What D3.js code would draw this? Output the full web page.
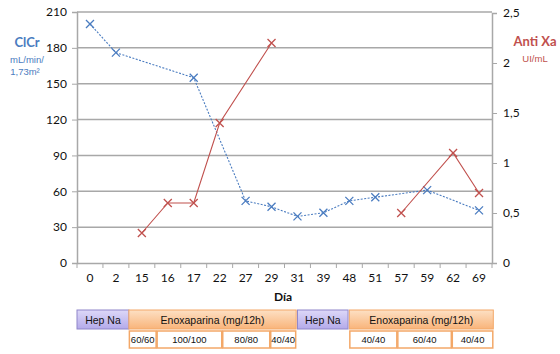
<!DOCTYPE html>
<html>
<head>
<meta charset="utf-8">
<script src="https://cdn.jsdelivr.net/npm/d3@7"></script>
<style>
  body { margin: 0; background: #fff; }
  text { font-family: Lato, "Open Sans", sans-serif; }
</style>
</head>
<body>
<div id="graph"></div>
<script>
const width = 560,
  height = 354;

// categories (días)
const days = ["0", "2", "15", "16", "17", "22", "27", "29", "31", "39", "48", "51", "57", "59", "62", "69"];

// ClCr (mL/min/1,73m2), null = sin dato
const clcr = [200, 176, null, null, 155, null, 52, 47, 39, 42, 52, 55, null, 61, null, 44];

// Anti Xa (UI/mL), two separate runs
const antiXa1 = [["15", 0.3], ["16", 0.6], ["17", 0.6], ["22", 1.4], ["29", 2.2]];
const antiXa2 = [["57", 0.5], ["62", 1.1], ["69", 0.7]];

const leftTicks = [0, 30, 60, 90, 120, 150, 180, 210];
const rightTicks = [0, 0.5, 1, 1.5, 2, 2.5];

// treatment rows, in category-index units
const regimens = [
  { label: "Hep Na", from: 0, to: 2, kind: "hep" },
  { label: "Enoxaparina (mg/12h)", from: 2, to: 8.45, kind: "enox" },
  { label: "Hep Na", from: 8.5, to: 10.45, kind: "hep" },
  { label: "Enoxaparina (mg/12h)", from: 10.5, to: 16.05, kind: "enox" }
];
const doses = [
  { label: "60/60", from: 2, to: 3.07 },
  { label: "100/100", from: 3.07, to: 5.6 },
  { label: "80/80", from: 5.6, to: 7.45 },
  { label: "40/40", from: 7.45, to: 8.45 },
  { label: "40/40", from: 10.5, to: 12.35 },
  { label: "60/40", from: 12.35, to: 14.45 },
  { label: "40/40", from: 14.45, to: 16.05 }
];

const margin = { left: 77, right: 68, top: 12, bottom: 91 };
const plotR = width - margin.right, plotB = height - margin.bottom;
const sans = "'Liberation Sans', Arial, sans-serif";

const svg = d3.select("#graph").append("svg")
  .attr('width', width)
  .attr('height', height);

const defs = svg.append("defs");
const gHep = defs.append("linearGradient").attr("id", "gHep").attr("x1", 0).attr("x2", 0).attr("y1", 0).attr("y2", 1);
gHep.append("stop").attr("offset", 0).attr("stop-color", "#ddd8f8");
gHep.append("stop").attr("offset", 1).attr("stop-color", "#b4aaea");
const gEnox = defs.append("linearGradient").attr("id", "gEnox").attr("x1", 0).attr("x2", 0).attr("y1", 0).attr("y2", 1);
gEnox.append("stop").attr("offset", 0).attr("stop-color", "#fde0c4");
gEnox.append("stop").attr("offset", 1).attr("stop-color", "#f9b47a");

const x = d3.scaleBand().domain(days).range([margin.left, plotR]);
const xi = d3.scaleLinear().domain([0, days.length]).range([margin.left, plotR]);
const y = d3.scaleLinear().domain([0, 210]).range([plotB, margin.top]);
const y2 = d3.scaleLinear().domain([0, 2.5]).range([plotB, margin.top + 1]);
const cx = d => x(d) + x.bandwidth() / 2;

// gridlines
svg.append("g")
  .selectAll("line")
  .data(leftTicks.filter(d => d > 0))
  .join("line")
  .attr("x1", margin.left).attr("x2", plotR)
  .attr("y1", d => y(d)).attr("y2", d => y(d))
  .attr("stroke", "#a8a8a8").attr("stroke-width", 1.5);

// axes
const axL = svg.append("g").attr("transform", `translate(${margin.left},0)`)
  .call(d3.axisLeft(y).tickValues(leftTicks).tickSize(5).tickPadding(5));
const axR = svg.append("g").attr("transform", `translate(${plotR},0)`)
  .call(d3.axisRight(y2).tickValues(rightTicks).tickSize(5).tickPadding(6)
    .tickFormat(d => String(d).replace(".", ",")));
const axB = svg.append("g").attr("transform", `translate(0,${plotB})`)
  .call(d3.axisBottom(x).tickSize(0).tickPadding(10));
axB.append("g").selectAll("line")
  .data(d3.range(days.length + 1))
  .join("line")
  .attr("x1", d => xi(d)).attr("x2", d => xi(d))
  .attr("y1", 0).attr("y2", 5)
  .attr("stroke", "#a8a8a8");

[axL, axR, axB].forEach(a => {
  a.selectAll(".domain").attr("stroke", "#a8a8a8").attr("stroke-width", 1.5);
  a.selectAll(".tick line").attr("stroke", "#a8a8a8");
  a.selectAll("text").attr("font-size", 12).attr("fill", "#111")
    .style("font-family", "Lato, 'Open Sans', sans-serif");
});

// cross marker
function crosses(g, pts, col) {
  g.selectAll("path.mk")
    .data(pts)
    .join("path")
    .attr("class", "mk")
    .attr("d", d => `M${d[0] - 4},${d[1] - 4}L${d[0] + 4},${d[1] + 4}M${d[0] - 4},${d[1] + 4}L${d[0] + 4},${d[1] - 4}`)
    .attr("stroke", col).attr("stroke-width", 1.3).attr("fill", "none");
}

// ClCr series
const blue = "#4a7cc0";
const clPts = days.map((d, i) => [d, clcr[i]]).filter(d => d[1] != null)
  .map(d => [cx(d[0]), y(d[1])]);
const gBlue = svg.append("g");
gBlue.append("path")
  .attr("d", d3.line()(clPts))
  .attr("fill", "none").attr("stroke", blue).attr("stroke-width", 1.1)
  .attr("stroke-dasharray", "2,1.5");
crosses(gBlue, clPts, blue);

// Anti Xa series
const red = "#c0504d";
const gRed = svg.append("g");
[antiXa1, antiXa2].forEach(s => {
  const pts = s.map(d => [cx(d[0]), y2(d[1])]);
  gRed.append("path")
    .attr("d", d3.line()(pts))
    .attr("fill", "none").attr("stroke", red).attr("stroke-width", 1.1);
  crosses(gRed.append("g"), pts, red);
});

// axis titles
svg.append("text").attr("x", 283).attr("y", 301).attr("text-anchor", "middle")
  .attr("font-size", 12).attr("font-weight", "bold").attr("fill", "#111").text("Día");

const lt = svg.append("g").attr("fill", blue).attr("text-anchor", "middle");
lt.append("text").attr("x", 27).attr("y", 47).attr("font-size", 13).attr("font-weight", "bold").text("ClCr");
lt.append("text").attr("x", 27).attr("y", 63).attr("font-size", 9.5).style("font-family", sans).text("mL/min/");
lt.append("text").attr("x", 25).attr("y", 75).attr("font-size", 9.5).style("font-family", sans).text("1,73m²");

const rt = svg.append("g").attr("fill", red).attr("text-anchor", "middle");
rt.append("text").attr("x", 535).attr("y", 46).attr("font-size", 13).attr("font-weight", "bold").text("Anti Xa");
rt.append("text").attr("x", 535).attr("y", 62).attr("font-size", 9.5).style("font-family", sans).text("UI/mL");

// treatment boxes
const rowY = 310, rowH = 19, doseY = 331, doseH = 17;
const reg = svg.append("g").selectAll("g").data(regimens).join("g");
reg.append("rect")
  .attr("x", d => xi(d.from)).attr("y", rowY)
  .attr("width", d => xi(d.to) - xi(d.from)).attr("height", rowH)
  .attr("fill", d => d.kind === "hep" ? "url(#gHep)" : "url(#gEnox)")
  .attr("stroke", d => d.kind === "hep" ? "#8f86c9" : "#f3a868")
  .attr("stroke-width", 1);
reg.append("text")
  .attr("x", d => (xi(d.from) + xi(d.to)) / 2).attr("y", rowY + 13.5)
  .attr("text-anchor", "middle").attr("font-size", 10.5).attr("fill", "#111")
  .style("font-family", sans)
  .text(d => d.label);

const dz = svg.append("g").selectAll("g").data(doses).join("g");
dz.append("rect")
  .attr("x", d => xi(d.from) + 0.5).attr("y", doseY)
  .attr("width", d => xi(d.to) - xi(d.from) - 1).attr("height", doseH)
  .attr("fill", "#fff").attr("stroke", "#f3a868").attr("stroke-width", 1.5);
dz.append("text")
  .attr("x", d => (xi(d.from) + xi(d.to)) / 2).attr("y", doseY + 12)
  .attr("text-anchor", "middle").attr("font-size", 9.5).attr("fill", "#111")
  .style("font-family", sans)
  .text(d => d.label);
</script>
</body>
</html>
